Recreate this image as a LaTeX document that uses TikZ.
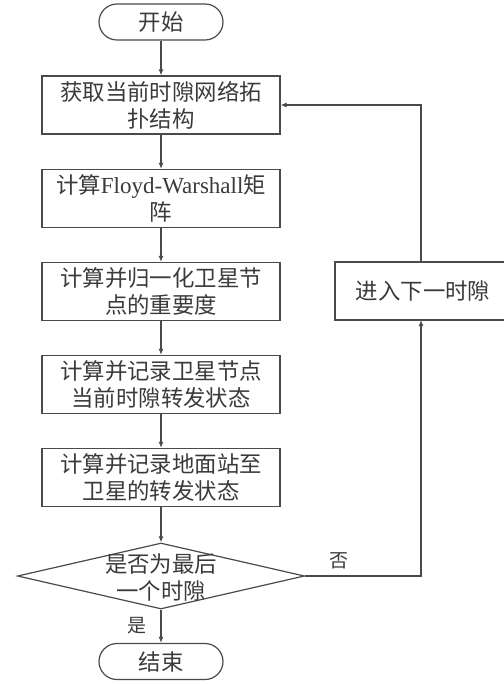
\documentclass[tikz,border=0pt]{standalone}
\usepackage{fontspec}
\setmainfont{Liberation Serif}
\newfontfamily\cjk{Noto Sans CJK SC}
\usetikzlibrary{shapes.geometric,arrows.meta}
\definecolor{linec}{HTML}{4A4A4A}
\definecolor{textc}{HTML}{3A3A3A}
\begin{document}
\begin{tikzpicture}[x=1pt,y=-1pt,
  every node/.style={text=textc,font=\cjk\fontsize{22.4}{27}\selectfont},
  stepbox/.style={draw=linec,line width=1.2pt,rectangle,minimum width=238pt,minimum height=58pt,inner sep=0pt,align=center},
  termbox/.style={draw=linec,line width=1.2pt,rectangle,rounded corners=18pt,minimum width=124pt,minimum height=36pt,inner sep=0pt},
  decbox/.style={draw=linec,line width=1.2pt,diamond,minimum width=287pt,minimum height=66pt,inner sep=0pt},
  flow/.style={draw=linec,line width=1.2pt,-{Latex[length=6pt,width=5pt]}},
  lbl/.style={font=\cjk\fontsize{19}{22}\selectfont}
]
\useasboundingbox (0,0) rectangle (503,684);
\node[termbox] (start) at (161,22) {开始};
\node[stepbox] (b1) at (161,105) {获取当前时隙网络拓\\扑结构};
\node[stepbox] (b2) at (161,198.5) {计算{\rmfamily\fontsize{23}{27}\selectfont Floyd-Warshall}矩\\阵};
\node[stepbox] (b3) at (161,291.5) {计算并归一化卫星节\\点的重要度};
\node[stepbox] (b4) at (161,384.5) {计算并记录卫星节点\\当前时隙转发状态};
\node[stepbox] (b5) at (161,477.5) {计算并记录地面站至\\卫星的转发状态};
\node[decbox] (dia) at (161,576) {};
\node[align=center,inner sep=0pt] (diat) at (161,578) {是否为最后\\一个时隙};
\node[termbox] (end) at (161,661.5) {结束};
\node[draw=linec,line width=1.2pt,rectangle,minimum width=190pt,minimum height=58pt,inner sep=0pt] (nxt) at (430,291) {};
\node[inner sep=0pt] (nxtt) at (423,291) {进入下一时隙};
\coordinate (c1) at (421,576);
\coordinate (c2) at (421,105);
\coordinate (c3) at (421,320);
\coordinate (c4) at (421,262);
\node[lbl,inner sep=0pt] (no) at (339,561) {否};
\node[lbl,inner sep=0pt] (yes) at (137,626) {是};
\draw[flow] (start) -- (b1);
\draw[flow] (b1) -- (b2);
\draw[flow] (b2) -- (b3);
\draw[flow] (b3) -- (b4);
\draw[flow] (b4) -- (b5);
\draw[flow] (b5) -- (dia.north);
\draw[flow] (dia.south) -- (end);
\draw[flow] (dia.east) -- (c1) -- (c3);
\draw[flow] (c4) -- (c2) -- (b1.east);
\end{tikzpicture}
\end{document}
